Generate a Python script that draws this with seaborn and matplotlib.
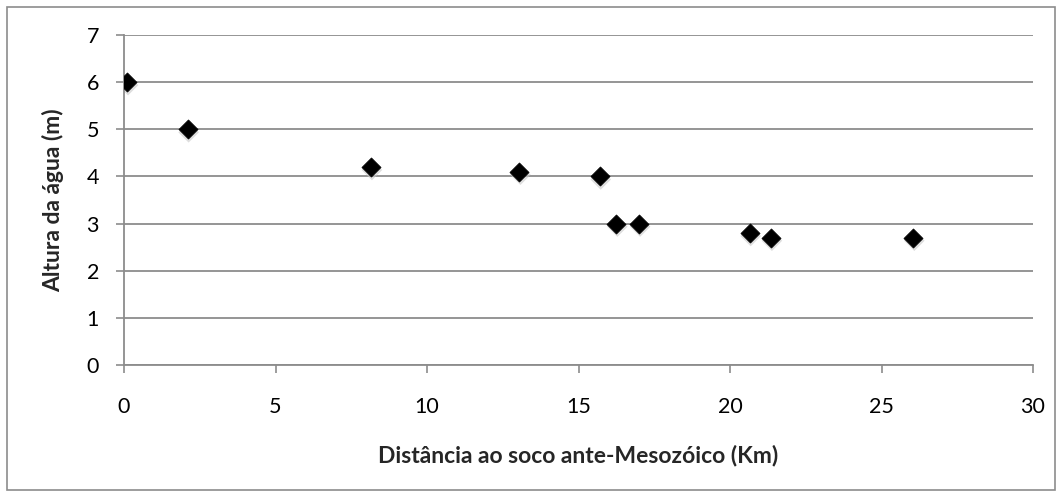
import matplotlib
matplotlib.use("Agg")
import matplotlib.pyplot as plt
import matplotlib.transforms as mtransforms
import seaborn as sns
import pandas as pd
from matplotlib.patches import Rectangle

distance_km = [0.1, 2.1, 8.15, 13.05, 15.7, 16.25, 17.0, 20.65, 21.35, 26.05]
water_height_m = [6.0, 5.0, 4.2, 4.1, 4.0, 3.0, 3.0, 2.8, 2.7, 2.7]
x_ticks = [0, 5, 10, 15, 20, 25, 30]
y_ticks = [0, 1, 2, 3, 4, 5, 6, 7]
x_label = "Distância ao soco ante-Mesozóico (Km)"
y_label = "Altura da água (m)"

df = pd.DataFrame({"x": distance_km, "y": water_height_m})

sns.set_theme(style="white")
plt.rcParams["font.family"] = ["Lato", "DejaVu Sans"]

fig = plt.figure(figsize=(10.62, 4.95), dpi=100)
ax = fig.add_axes([124 / 1062, 1 - 365 / 495, (1033 - 124) / 1062, (365 - 35) / 495])

# soft shadow under the markers
sns.scatterplot(data=df, x="x", y="y", ax=ax, marker="D", s=110, color="#c8c8c8",
                edgecolor="none", alpha=0.6, zorder=2, legend=False)
shadow = ax.collections[-1]
shadow.set_offset_transform(ax.transData + mtransforms.ScaledTranslation(1 / 100, -3 / 100, fig.dpi_scale_trans))

sns.scatterplot(data=df, x="x", y="y", ax=ax, marker="D", s=95, color="black",
                edgecolor="black", linewidth=0.5, zorder=3, legend=False)

ax.set_xlim(0, 30)
ax.set_ylim(0, 7)
ax.set_xticks(x_ticks)
ax.set_yticks(y_ticks)
ax.yaxis.grid(True, color="#8c8c8c", linewidth=1.3)
ax.xaxis.grid(False)
for side in ["top", "right"]:
    ax.spines[side].set_visible(False)
for side in ["left", "bottom"]:
    ax.spines[side].set_color("#8c8c8c")
    ax.spines[side].set_linewidth(1.3)
ax.tick_params(axis="both", which="major", direction="out", length=6, width=1.2,
               color="#8c8c8c", labelsize=15.5, labelcolor="black", bottom=True, left=True)
ax.tick_params(axis="x", pad=17)
ax.tick_params(axis="y", pad=12)
ax.set_xlabel(x_label, fontsize=16.5, fontweight="bold", labelpad=20)
ax.set_ylabel(y_label, fontsize=16.5, fontweight="bold", labelpad=16)

fig.patches.append(Rectangle((7 / 1062, 5 / 495), 1 - 14 / 1062, 1 - 12 / 495,
                             transform=fig.transFigure, fill=False,
                             edgecolor="#8c8c8c", linewidth=1.2))

fig.savefig("out.png", dpi=100)
